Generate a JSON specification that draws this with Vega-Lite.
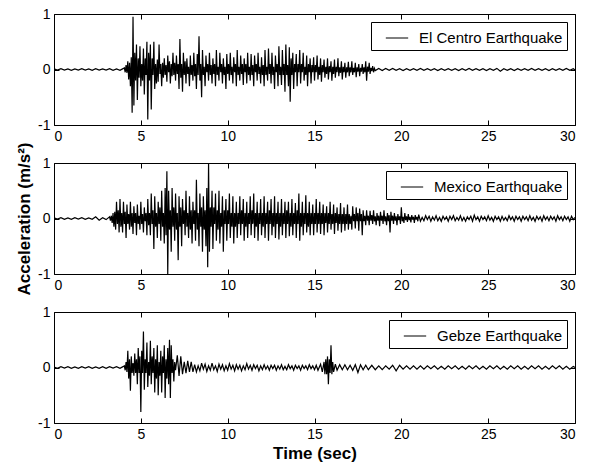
{
"$schema": "https://vega.github.io/schema/vega-lite/v6.json",
"padding": {"left": 15, "top": 6, "right": 8, "bottom": 2},
"datasets": {
"ec": [
{"t":0,"a":0.01},{"t":0.2,"a":-0.01},{"t":0.4,"a":0.015},{"t":0.6,"a":-0.01},{"t":0.8,"a":0.01},{"t":1.0,"a":-0.015},{"t":1.2,"a":0.01},{"t":1.4,"a":-0.01},{"t":1.6,"a":0.015},{"t":1.8,"a":-0.01},{"t":2.0,"a":0.01},{"t":2.2,"a":-0.015},{"t":2.4,"a":0.015},{"t":2.6,"a":-0.01},{"t":2.8,"a":0.01},{"t":3.0,"a":-0.01},{"t":3.2,"a":0.015},{"t":3.4,"a":-0.015},{"t":3.6,"a":0.01},{"t":3.8,"a":-0.015},{"t":4.0,"a":0.02},
{"t":4.05,"a":0.03},{"t":4.1,"a":-0.05},{"t":4.15,"a":0.08},{"t":4.2,"a":-0.06},{"t":4.25,"a":0.15},{"t":4.3,"a":-0.18},{"t":4.35,"a":0.12},{"t":4.4,"a":-0.3},{"t":4.45,"a":0.22},{"t":4.5,"a":-0.78},{"t":4.55,"a":0.95},{"t":4.6,"a":-0.65},{"t":4.65,"a":0.3},{"t":4.7,"a":-0.2},{"t":4.75,"a":0.45},{"t":4.8,"a":-0.55},{"t":4.85,"a":0.2},{"t":4.9,"a":-0.15},{"t":4.95,"a":0.42},
{"t":5.0,"a":-0.3},{"t":5.05,"a":0.1},{"t":5.1,"a":-0.2},{"t":5.15,"a":0.38},{"t":5.2,"a":-0.45},{"t":5.25,"a":0.2},{"t":5.3,"a":-0.1},{"t":5.35,"a":0.5},{"t":5.4,"a":-0.9},{"t":5.45,"a":0.3},{"t":5.5,"a":-0.2},{"t":5.55,"a":0.45},{"t":5.6,"a":-0.72},{"t":5.65,"a":0.2},{"t":5.7,"a":-0.1},{"t":5.75,"a":0.5},{"t":5.8,"a":-0.35},{"t":5.85,"a":0.1},{"t":5.9,"a":-0.25},{"t":5.95,"a":0.18},
{"t":6.0,"a":-0.22},{"t":6.05,"a":0.45},{"t":6.1,"a":-0.08},{"t":6.15,"a":0.1},{"t":6.2,"a":-0.3},{"t":6.25,"a":0.12},{"t":6.3,"a":-0.15},{"t":6.35,"a":0.2},{"t":6.4,"a":-0.1},{"t":6.45,"a":0.08},{"t":6.5,"a":-0.22},{"t":6.55,"a":0.25},{"t":6.6,"a":-0.05},{"t":6.65,"a":0.15},{"t":6.7,"a":-0.25},{"t":6.75,"a":0.1},{"t":6.8,"a":-0.12},{"t":6.85,"a":0.3},{"t":6.9,"a":-0.1},{"t":6.95,"a":0.12},
{"t":7.0,"a":-0.2},{"t":7.05,"a":0.25},{"t":7.1,"a":-0.08},{"t":7.15,"a":0.1},{"t":7.2,"a":-0.35},{"t":7.25,"a":0.55},{"t":7.3,"a":-0.15},{"t":7.35,"a":0.1},{"t":7.4,"a":-0.4},{"t":7.45,"a":0.3},{"t":7.5,"a":-0.1},{"t":7.55,"a":0.15},{"t":7.6,"a":-0.25},{"t":7.65,"a":0.2},{"t":7.7,"a":-0.08},{"t":7.75,"a":0.05},{"t":7.8,"a":-0.3},{"t":7.85,"a":0.25},{"t":7.9,"a":-0.1},{"t":7.95,"a":0.08},
{"t":8.0,"a":-0.2},{"t":8.05,"a":0.3},{"t":8.1,"a":-0.12},{"t":8.15,"a":0.1},{"t":8.2,"a":-0.35},{"t":8.25,"a":0.28},{"t":8.3,"a":-0.1},{"t":8.35,"a":0.6},{"t":8.4,"a":-0.2},{"t":8.45,"a":0.1},{"t":8.5,"a":-0.5},{"t":8.55,"a":0.35},{"t":8.6,"a":-0.1},{"t":8.65,"a":0.05},{"t":8.7,"a":-0.3},{"t":8.75,"a":0.25},{"t":8.8,"a":-0.05},{"t":8.85,"a":0.1},{"t":8.9,"a":-0.2},{"t":8.95,"a":0.3},
{"t":9.0,"a":-0.1},{"t":9.05,"a":0.08},{"t":9.1,"a":-0.25},{"t":9.15,"a":0.2},{"t":9.2,"a":-0.08},{"t":9.25,"a":0.1},{"t":9.3,"a":-0.3},{"t":9.35,"a":0.35},{"t":9.4,"a":-0.1},{"t":9.45,"a":0.05},{"t":9.5,"a":-0.2},{"t":9.55,"a":0.3},{"t":9.6,"a":-0.05},{"t":9.65,"a":0.1},{"t":9.7,"a":-0.25},{"t":9.75,"a":0.2},{"t":9.8,"a":-0.1},{"t":9.85,"a":0.05},{"t":9.9,"a":-0.35},{"t":9.95,"a":0.28},
{"t":10.0,"a":-0.08},{"t":10.05,"a":0.1},{"t":10.1,"a":-0.2},{"t":10.15,"a":0.3},{"t":10.2,"a":-0.1},{"t":10.25,"a":0.05},{"t":10.3,"a":-0.25},{"t":10.35,"a":0.22},{"t":10.4,"a":-0.05},{"t":10.45,"a":0.1},{"t":10.5,"a":-0.3},{"t":10.55,"a":0.35},{"t":10.6,"a":-0.1},{"t":10.65,"a":0.05},{"t":10.7,"a":-0.2},{"t":10.75,"a":0.25},{"t":10.8,"a":-0.08},{"t":10.85,"a":0.1},{"t":10.9,"a":-0.28},{"t":10.95,"a":0.2},
{"t":11.0,"a":-0.05},{"t":11.05,"a":0.1},{"t":11.1,"a":-0.25},{"t":11.15,"a":0.3},{"t":11.2,"a":-0.1},{"t":11.25,"a":0.05},{"t":11.3,"a":-0.2},{"t":11.35,"a":0.28},{"t":11.4,"a":-0.1},{"t":11.45,"a":0.08},{"t":11.5,"a":-0.3},{"t":11.55,"a":0.25},{"t":11.6,"a":-0.05},{"t":11.65,"a":0.1},{"t":11.7,"a":-0.2},{"t":11.75,"a":0.3},{"t":11.8,"a":-0.08},{"t":11.85,"a":0.05},{"t":11.9,"a":-0.25},{"t":11.95,"a":0.22},
{"t":12.0,"a":-0.1},{"t":12.05,"a":0.08},{"t":12.1,"a":-0.3},{"t":12.15,"a":0.35},{"t":12.2,"a":-0.1},{"t":12.25,"a":0.05},{"t":12.3,"a":-0.2},{"t":12.35,"a":0.38},{"t":12.4,"a":-0.08},{"t":12.45,"a":0.1},{"t":12.5,"a":-0.25},{"t":12.55,"a":0.3},{"t":12.6,"a":-0.1},{"t":12.65,"a":0.05},{"t":12.7,"a":-0.35},{"t":12.75,"a":0.25},{"t":12.8,"a":-0.05},{"t":12.85,"a":0.1},{"t":12.9,"a":-0.3},{"t":12.95,"a":0.42},
{"t":13.0,"a":-0.1},{"t":13.05,"a":0.05},{"t":13.1,"a":-0.28},{"t":13.15,"a":0.35},{"t":13.2,"a":-0.1},{"t":13.25,"a":0.1},{"t":13.3,"a":-0.4},{"t":13.35,"a":0.45},{"t":13.4,"a":-0.1},{"t":13.45,"a":0.08},{"t":13.5,"a":-0.3},{"t":13.55,"a":0.4},{"t":13.6,"a":-0.58},{"t":13.65,"a":0.2},{"t":13.7,"a":-0.1},{"t":13.75,"a":0.3},{"t":13.8,"a":-0.35},{"t":13.85,"a":0.1},{"t":13.9,"a":-0.05},{"t":13.95,"a":0.28},
{"t":14.0,"a":-0.3},{"t":14.05,"a":0.1},{"t":14.1,"a":-0.05},{"t":14.15,"a":0.35},{"t":14.2,"a":-0.25},{"t":14.25,"a":0.1},{"t":14.3,"a":-0.05},{"t":14.35,"a":0.3},{"t":14.4,"a":-0.2},{"t":14.45,"a":0.05},{"t":14.5,"a":-0.1},{"t":14.55,"a":0.25},{"t":14.6,"a":-0.3},{"t":14.65,"a":0.1},{"t":14.7,"a":-0.05},{"t":14.75,"a":0.2},{"t":14.8,"a":-0.25},{"t":14.85,"a":0.08},{"t":14.9,"a":-0.05},{"t":14.95,"a":0.22},
{"t":15.0,"a":-0.2},{"t":15.05,"a":0.08},{"t":15.1,"a":-0.05},{"t":15.15,"a":0.25},{"t":15.2,"a":-0.18},{"t":15.25,"a":0.05},{"t":15.3,"a":-0.1},{"t":15.35,"a":0.2},{"t":15.4,"a":-0.22},{"t":15.45,"a":0.08},{"t":15.5,"a":-0.05},{"t":15.55,"a":0.18},{"t":15.6,"a":-0.15},{"t":15.65,"a":0.05},{"t":15.7,"a":-0.08},{"t":15.75,"a":0.2},{"t":15.8,"a":-0.18},{"t":15.85,"a":0.06},{"t":15.9,"a":-0.05},{"t":15.95,"a":0.15},
{"t":16.0,"a":-0.2},{"t":16.05,"a":0.05},{"t":16.1,"a":-0.08},{"t":16.15,"a":0.18},{"t":16.2,"a":-0.15},{"t":16.25,"a":0.05},{"t":16.3,"a":-0.05},{"t":16.35,"a":0.2},{"t":16.4,"a":-0.12},{"t":16.45,"a":0.04},{"t":16.5,"a":-0.06},{"t":16.55,"a":0.15},{"t":16.6,"a":-0.18},{"t":16.65,"a":0.05},{"t":16.7,"a":-0.05},{"t":16.75,"a":0.12},{"t":16.8,"a":-0.15},{"t":16.85,"a":0.04},{"t":16.9,"a":-0.05},{"t":16.95,"a":0.14},
{"t":17.0,"a":-0.12},{"t":17.05,"a":0.04},{"t":17.1,"a":-0.05},{"t":17.15,"a":0.15},{"t":17.2,"a":-0.1},{"t":17.25,"a":0.03},{"t":17.3,"a":-0.05},{"t":17.35,"a":0.12},{"t":17.4,"a":-0.14},{"t":17.45,"a":0.04},{"t":17.5,"a":-0.04},{"t":17.55,"a":0.1},{"t":17.6,"a":-0.12},{"t":17.65,"a":0.03},{"t":17.7,"a":-0.04},{"t":17.75,"a":0.1},{"t":17.8,"a":-0.08},{"t":17.85,"a":0.04},{"t":17.9,"a":-0.05},{"t":17.95,"a":0.15},
{"t":18.0,"a":-0.2},{"t":18.05,"a":0.05},{"t":18.1,"a":-0.04},{"t":18.15,"a":0.12},{"t":18.2,"a":-0.08},{"t":18.25,"a":0.03},{"t":18.3,"a":-0.03},{"t":18.35,"a":0.06},{"t":18.4,"a":-0.05},{"t":18.45,"a":0.02},{"t":18.5,"a":-0.02},
{"t":18.7,"a":0.02},{"t":18.9,"a":-0.02},{"t":19.1,"a":0.02},{"t":19.3,"a":-0.015},{"t":19.5,"a":0.02},{"t":19.7,"a":-0.015},{"t":19.9,"a":0.015},{"t":20.1,"a":-0.02},{"t":20.3,"a":0.015},{"t":20.5,"a":-0.015},{"t":20.7,"a":0.015},{"t":20.9,"a":-0.015},
{"t":21.1,"a":0.02},{"t":21.3,"a":-0.015},{"t":21.5,"a":0.015},{"t":21.7,"a":-0.015},{"t":21.9,"a":0.015},{"t":22.1,"a":-0.02},{"t":22.3,"a":0.015},{"t":22.5,"a":-0.015},{"t":22.7,"a":0.015},{"t":22.9,"a":-0.015},
{"t":23.1,"a":0.015},{"t":23.3,"a":-0.02},{"t":23.5,"a":0.015},{"t":23.7,"a":-0.015},{"t":23.9,"a":0.02},{"t":24.1,"a":-0.015},{"t":24.3,"a":0.015},{"t":24.5,"a":-0.015},{"t":24.7,"a":0.015},{"t":24.9,"a":-0.02},
{"t":25.1,"a":0.015},{"t":25.3,"a":-0.015},{"t":25.5,"a":0.02},{"t":25.7,"a":-0.03},{"t":25.9,"a":0.015},{"t":26.1,"a":-0.015},{"t":26.3,"a":0.015},{"t":26.5,"a":-0.02},{"t":26.7,"a":0.015},{"t":26.9,"a":-0.015},
{"t":27.1,"a":0.015},{"t":27.3,"a":-0.015},{"t":27.5,"a":0.02},{"t":27.7,"a":-0.015},{"t":27.9,"a":0.015},{"t":28.1,"a":-0.015},{"t":28.3,"a":0.015},{"t":28.5,"a":-0.02},{"t":28.7,"a":0.015},{"t":28.9,"a":-0.015},
{"t":29.1,"a":0.015},{"t":29.3,"a":-0.015},{"t":29.5,"a":0.02},{"t":29.7,"a":-0.015},{"t":29.9,"a":0.015},{"t":30,"a":-0.01}
],
"mx": [
{"t":0,"a":0.01},{"t":0.2,"a":-0.01},{"t":0.4,"a":0.015},{"t":0.6,"a":-0.015},{"t":0.8,"a":0.01},{"t":1.0,"a":-0.015},{"t":1.2,"a":0.015},{"t":1.4,"a":-0.01},{"t":1.6,"a":0.015},{"t":1.8,"a":-0.015},{"t":2.0,"a":0.01},{"t":2.2,"a":-0.015},{"t":2.4,"a":0.03},{"t":2.6,"a":-0.03},{"t":2.8,"a":0.015},{"t":3.0,"a":-0.02},{"t":3.2,"a":0.03},
{"t":3.25,"a":-0.04},{"t":3.3,"a":0.05},{"t":3.35,"a":-0.08},{"t":3.4,"a":0.1},{"t":3.45,"a":-0.15},{"t":3.5,"a":0.12},{"t":3.55,"a":-0.2},{"t":3.6,"a":0.3},{"t":3.65,"a":-0.1},{"t":3.7,"a":0.15},{"t":3.75,"a":-0.25},{"t":3.8,"a":0.35},{"t":3.85,"a":-0.15},{"t":3.9,"a":0.1},{"t":3.95,"a":-0.25},
{"t":4.0,"a":0.3},{"t":4.05,"a":-0.1},{"t":4.1,"a":0.12},{"t":4.15,"a":-0.35},{"t":4.2,"a":0.25},{"t":4.25,"a":-0.1},{"t":4.3,"a":0.08},{"t":4.35,"a":-0.2},{"t":4.4,"a":0.3},{"t":4.45,"a":-0.15},{"t":4.5,"a":0.1},{"t":4.55,"a":-0.28},{"t":4.6,"a":0.22},{"t":4.65,"a":-0.08},{"t":4.7,"a":0.1},{"t":4.75,"a":-0.3},{"t":4.8,"a":0.25},{"t":4.85,"a":-0.1},{"t":4.9,"a":0.05},{"t":4.95,"a":-0.2},
{"t":5.0,"a":0.3},{"t":5.05,"a":-0.1},{"t":5.1,"a":0.08},{"t":5.15,"a":-0.25},{"t":5.2,"a":0.2},{"t":5.25,"a":-0.05},{"t":5.3,"a":0.1},{"t":5.35,"a":-0.3},{"t":5.4,"a":0.35},{"t":5.45,"a":-0.12},{"t":5.5,"a":0.1},{"t":5.55,"a":-0.3},{"t":5.6,"a":0.45},{"t":5.65,"a":-0.1},{"t":5.7,"a":0.15},{"t":5.75,"a":-0.55},{"t":5.8,"a":0.4},{"t":5.85,"a":-0.15},{"t":5.9,"a":0.1},{"t":5.95,"a":-0.35},
{"t":6.0,"a":0.3},{"t":6.05,"a":-0.1},{"t":6.1,"a":0.2},{"t":6.15,"a":-0.4},{"t":6.2,"a":0.5},{"t":6.25,"a":-0.15},{"t":6.3,"a":0.1},{"t":6.35,"a":-0.45},{"t":6.4,"a":0.55},{"t":6.45,"a":-0.3},{"t":6.5,"a":0.85},{"t":6.55,"a":-1.0},{"t":6.6,"a":0.5},{"t":6.65,"a":-0.2},{"t":6.7,"a":0.15},{"t":6.75,"a":-0.6},{"t":6.8,"a":0.55},{"t":6.85,"a":-0.15},{"t":6.9,"a":0.2},{"t":6.95,"a":-0.4},
{"t":7.0,"a":0.45},{"t":7.05,"a":-0.2},{"t":7.1,"a":0.1},{"t":7.15,"a":-0.75},{"t":7.2,"a":0.4},{"t":7.25,"a":-0.15},{"t":7.3,"a":0.2},{"t":7.35,"a":-0.5},{"t":7.4,"a":0.35},{"t":7.45,"a":-0.1},{"t":7.5,"a":0.15},{"t":7.55,"a":-0.3},{"t":7.6,"a":0.5},{"t":7.65,"a":-0.15},{"t":7.7,"a":0.1},{"t":7.75,"a":-0.35},{"t":7.8,"a":0.4},{"t":7.85,"a":-0.2},{"t":7.9,"a":0.15},{"t":7.95,"a":-0.45},
{"t":8.0,"a":0.3},{"t":8.05,"a":-0.1},{"t":8.1,"a":0.15},{"t":8.15,"a":-0.4},{"t":8.2,"a":0.7},{"t":8.25,"a":-0.2},{"t":8.3,"a":0.1},{"t":8.35,"a":-0.5},{"t":8.4,"a":0.45},{"t":8.45,"a":-0.15},{"t":8.5,"a":0.2},{"t":8.55,"a":-0.6},{"t":8.6,"a":0.4},{"t":8.65,"a":-0.2},{"t":8.7,"a":0.15},{"t":8.75,"a":-0.5},{"t":8.8,"a":0.55},{"t":8.85,"a":-0.88},{"t":8.9,"a":1.0},{"t":8.95,"a":-0.6},
{"t":9.0,"a":0.2},{"t":9.05,"a":-0.15},{"t":9.1,"a":0.5},{"t":9.15,"a":-0.55},{"t":9.2,"a":0.2},{"t":9.25,"a":-0.1},{"t":9.3,"a":0.45},{"t":9.35,"a":-0.4},{"t":9.4,"a":0.15},{"t":9.45,"a":-0.2},{"t":9.5,"a":0.5},{"t":9.55,"a":-0.45},{"t":9.6,"a":0.1},{"t":9.65,"a":-0.15},{"t":9.7,"a":0.4},{"t":9.75,"a":-0.6},{"t":9.8,"a":0.15},{"t":9.85,"a":-0.1},{"t":9.9,"a":0.35},{"t":9.95,"a":-0.4},
{"t":10.0,"a":0.15},{"t":10.05,"a":-0.1},{"t":10.1,"a":0.45},{"t":10.15,"a":-0.35},{"t":10.2,"a":0.1},{"t":10.25,"a":-0.15},{"t":10.3,"a":0.4},{"t":10.35,"a":-0.45},{"t":10.4,"a":0.1},{"t":10.45,"a":-0.15},{"t":10.5,"a":0.3},{"t":10.55,"a":-0.35},{"t":10.6,"a":0.1},{"t":10.65,"a":-0.1},{"t":10.7,"a":0.4},{"t":10.75,"a":-0.3},{"t":10.8,"a":0.15},{"t":10.85,"a":-0.1},{"t":10.9,"a":0.35},{"t":10.95,"a":-0.4},
{"t":11.0,"a":0.1},{"t":11.05,"a":-0.15},{"t":11.1,"a":0.3},{"t":11.15,"a":-0.35},{"t":11.2,"a":0.1},{"t":11.25,"a":-0.1},{"t":11.3,"a":0.4},{"t":11.35,"a":-0.3},{"t":11.4,"a":0.15},{"t":11.45,"a":-0.1},{"t":11.5,"a":0.45},{"t":11.55,"a":-0.35},{"t":11.6,"a":0.1},{"t":11.65,"a":-0.15},{"t":11.7,"a":0.3},{"t":11.75,"a":-0.4},{"t":11.8,"a":0.1},{"t":11.85,"a":-0.1},{"t":11.9,"a":0.35},{"t":11.95,"a":-0.3},
{"t":12.0,"a":0.1},{"t":12.05,"a":-0.15},{"t":12.1,"a":0.4},{"t":12.15,"a":-0.35},{"t":12.2,"a":0.1},{"t":12.25,"a":-0.1},{"t":12.3,"a":0.3},{"t":12.35,"a":-0.4},{"t":12.4,"a":0.15},{"t":12.45,"a":-0.1},{"t":12.5,"a":0.35},{"t":12.55,"a":-0.3},{"t":12.6,"a":0.1},{"t":12.65,"a":-0.15},{"t":12.7,"a":0.4},{"t":12.75,"a":-0.35},{"t":12.8,"a":0.1},{"t":12.85,"a":-0.1},{"t":12.9,"a":0.3},{"t":12.95,"a":-0.38},
{"t":13.0,"a":0.1},{"t":13.05,"a":-0.15},{"t":13.1,"a":0.35},{"t":13.15,"a":-0.3},{"t":13.2,"a":0.1},{"t":13.25,"a":-0.1},{"t":13.3,"a":0.3},{"t":13.35,"a":-0.35},{"t":13.4,"a":0.15},{"t":13.45,"a":-0.1},{"t":13.5,"a":0.3},{"t":13.55,"a":-0.32},{"t":13.6,"a":0.1},{"t":13.65,"a":-0.15},{"t":13.7,"a":0.35},{"t":13.75,"a":-0.3},{"t":13.8,"a":0.1},{"t":13.85,"a":-0.1},{"t":13.9,"a":0.28},{"t":13.95,"a":-0.35},
{"t":14.0,"a":0.15},{"t":14.05,"a":-0.1},{"t":14.1,"a":0.45},{"t":14.15,"a":-0.4},{"t":14.2,"a":0.1},{"t":14.25,"a":-0.15},{"t":14.3,"a":0.3},{"t":14.35,"a":-0.3},{"t":14.4,"a":0.1},{"t":14.45,"a":-0.1},{"t":14.5,"a":0.42},{"t":14.55,"a":-0.25},{"t":14.6,"a":0.1},{"t":14.65,"a":-0.15},{"t":14.7,"a":0.3},{"t":14.75,"a":-0.3},{"t":14.8,"a":0.1},{"t":14.85,"a":-0.1},{"t":14.9,"a":0.25},{"t":14.95,"a":-0.3},
{"t":15.0,"a":0.1},{"t":15.05,"a":-0.1},{"t":15.1,"a":0.35},{"t":15.15,"a":-0.25},{"t":15.2,"a":0.1},{"t":15.25,"a":-0.1},{"t":15.3,"a":0.3},{"t":15.35,"a":-0.28},{"t":15.4,"a":0.1},{"t":15.45,"a":-0.1},{"t":15.5,"a":0.25},{"t":15.55,"a":-0.3},{"t":15.6,"a":0.1},{"t":15.65,"a":-0.08},{"t":15.7,"a":0.22},{"t":15.75,"a":-0.25},{"t":15.8,"a":0.1},{"t":15.85,"a":-0.1},{"t":15.9,"a":0.3},{"t":15.95,"a":-0.2},
{"t":16.0,"a":0.08},{"t":16.05,"a":-0.1},{"t":16.1,"a":0.25},{"t":16.15,"a":-0.28},{"t":16.2,"a":0.1},{"t":16.25,"a":-0.08},{"t":16.3,"a":0.2},{"t":16.35,"a":-0.22},{"t":16.4,"a":0.08},{"t":16.45,"a":-0.1},{"t":16.5,"a":0.28},{"t":16.55,"a":-0.25},{"t":16.6,"a":0.08},{"t":16.65,"a":-0.1},{"t":16.7,"a":0.2},{"t":16.75,"a":-0.22},{"t":16.8,"a":0.08},{"t":16.85,"a":-0.1},{"t":16.9,"a":0.25},{"t":16.95,"a":-0.2},
{"t":17.0,"a":0.08},{"t":17.05,"a":-0.1},{"t":17.1,"a":0.05},{"t":17.15,"a":-0.2},{"t":17.2,"a":0.22},{"t":17.25,"a":-0.05},{"t":17.3,"a":0.08},{"t":17.35,"a":-0.18},{"t":17.4,"a":0.2},{"t":17.45,"a":-0.05},{"t":17.5,"a":0.1},{"t":17.55,"a":-0.22},{"t":17.6,"a":0.18},{"t":17.65,"a":-0.05},{"t":17.7,"a":0.08},{"t":17.75,"a":-0.3},{"t":17.8,"a":0.15},{"t":17.85,"a":-0.05},{"t":17.9,"a":0.05},{"t":17.95,"a":-0.12},
{"t":18.0,"a":0.15},{"t":18.05,"a":-0.04},{"t":18.1,"a":0.05},{"t":18.15,"a":-0.12},{"t":18.2,"a":0.14},{"t":18.25,"a":-0.04},{"t":18.3,"a":0.06},{"t":18.35,"a":-0.1},{"t":18.4,"a":0.15},{"t":18.45,"a":-0.05},{"t":18.5,"a":0.04},{"t":18.55,"a":-0.12},{"t":18.6,"a":0.1},{"t":18.65,"a":-0.04},{"t":18.7,"a":0.05},{"t":18.75,"a":-0.14},{"t":18.8,"a":0.12},{"t":18.85,"a":-0.04},{"t":18.9,"a":0.05},{"t":18.95,"a":-0.1},
{"t":19.0,"a":0.15},{"t":19.05,"a":-0.05},{"t":19.1,"a":0.04},{"t":19.15,"a":-0.12},{"t":19.2,"a":0.1},{"t":19.25,"a":-0.05},{"t":19.3,"a":0.06},{"t":19.35,"a":-0.25},{"t":19.4,"a":0.12},{"t":19.45,"a":-0.04},{"t":19.5,"a":0.05},{"t":19.55,"a":-0.1},{"t":19.6,"a":0.1},{"t":19.65,"a":-0.04},{"t":19.7,"a":0.04},{"t":19.75,"a":-0.12},{"t":19.8,"a":0.08},{"t":19.85,"a":-0.03},{"t":19.9,"a":0.04},{"t":19.95,"a":-0.1},
{"t":20.0,"a":0.2},{"t":20.05,"a":-0.05},{"t":20.1,"a":0.03},{"t":20.15,"a":-0.08},{"t":20.2,"a":0.1},{"t":20.25,"a":-0.03},{"t":20.3,"a":0.04},{"t":20.35,"a":-0.06},{"t":20.4,"a":0.08},{"t":20.45,"a":-0.03},{"t":20.5,"a":0.03},{"t":20.55,"a":-0.07},{"t":20.6,"a":0.06},{"t":20.65,"a":-0.02},{"t":20.7,"a":0.03},{"t":20.75,"a":-0.08},{"t":20.8,"a":0.06},{"t":20.85,"a":-0.02},{"t":20.9,"a":0.03},{"t":20.95,"a":-0.05},
{"t":21.0,"a":0.07},{"t":21.1,"a":-0.05},{"t":21.2,"a":0.02},{"t":21.3,"a":-0.04},{"t":21.4,"a":0.05},{"t":21.5,"a":-0.02},{"t":21.6,"a":0.04},{"t":21.7,"a":-0.05},{"t":21.8,"a":0.03},{"t":21.9,"a":-0.03},
{"t":22.0,"a":0.05},{"t":22.1,"a":-0.04},{"t":22.2,"a":0.02},{"t":22.3,"a":-0.05},{"t":22.4,"a":0.04},{"t":22.5,"a":-0.02},{"t":22.6,"a":0.03},{"t":22.7,"a":-0.05},{"t":22.8,"a":0.04},{"t":22.9,"a":-0.02},
{"t":23.0,"a":0.05},{"t":23.1,"a":-0.04},{"t":23.2,"a":0.02},{"t":23.3,"a":-0.03},{"t":23.4,"a":0.05},{"t":23.5,"a":-0.04},{"t":23.6,"a":0.02},{"t":23.7,"a":-0.05},{"t":23.8,"a":0.03},{"t":23.9,"a":-0.02},
{"t":24.0,"a":0.04},{"t":24.1,"a":-0.05},{"t":24.2,"a":0.06},{"t":24.3,"a":-0.02},{"t":24.4,"a":0.03},{"t":24.5,"a":-0.05},{"t":24.6,"a":0.04},{"t":24.7,"a":-0.02},{"t":24.8,"a":0.03},{"t":24.9,"a":-0.04},
{"t":25.0,"a":0.05},{"t":25.1,"a":-0.03},{"t":25.2,"a":0.02},{"t":25.3,"a":-0.05},{"t":25.4,"a":0.04},{"t":25.5,"a":-0.02},{"t":25.6,"a":0.03},{"t":25.7,"a":-0.05},{"t":25.8,"a":0.04},{"t":25.9,"a":-0.03},
{"t":26.0,"a":0.02},{"t":26.1,"a":-0.04},{"t":26.2,"a":0.05},{"t":26.3,"a":-0.02},{"t":26.4,"a":0.03},{"t":26.5,"a":-0.05},{"t":26.6,"a":0.04},{"t":26.7,"a":-0.02},{"t":26.8,"a":0.03},{"t":26.9,"a":-0.05},
{"t":27.0,"a":0.04},{"t":27.1,"a":-0.02},{"t":27.2,"a":0.03},{"t":27.3,"a":-0.04},{"t":27.4,"a":0.05},{"t":27.5,"a":-0.03},{"t":27.6,"a":0.02},{"t":27.7,"a":-0.05},{"t":27.8,"a":0.04},{"t":27.9,"a":-0.02},
{"t":28.0,"a":0.03},{"t":28.1,"a":-0.05},{"t":28.2,"a":0.05},{"t":28.3,"a":-0.02},{"t":28.4,"a":0.03},{"t":28.5,"a":-0.04},{"t":28.6,"a":0.04},{"t":28.7,"a":-0.02},{"t":28.8,"a":0.03},{"t":28.9,"a":-0.05},
{"t":29.0,"a":0.05},{"t":29.1,"a":-0.02},{"t":29.2,"a":0.03},{"t":29.3,"a":-0.04},{"t":29.4,"a":0.04},{"t":29.5,"a":-0.02},{"t":29.6,"a":0.03},{"t":29.7,"a":-0.05},{"t":29.8,"a":0.04},{"t":29.9,"a":-0.02},{"t":30.0,"a":0.02}
],
"gb": [
{"t":0,"a":0.01},{"t":0.2,"a":-0.015},{"t":0.4,"a":0.015},{"t":0.6,"a":-0.01},{"t":0.8,"a":0.015},{"t":1.0,"a":-0.015},{"t":1.2,"a":0.01},{"t":1.4,"a":-0.015},{"t":1.6,"a":0.015},{"t":1.8,"a":-0.01},{"t":2.0,"a":0.015},{"t":2.2,"a":-0.015},{"t":2.4,"a":0.01},{"t":2.6,"a":-0.015},{"t":2.8,"a":0.015},{"t":3.0,"a":-0.015},{"t":3.2,"a":0.015},{"t":3.4,"a":-0.01},{"t":3.6,"a":0.015},{"t":3.8,"a":-0.015},{"t":4.0,"a":0.02},
{"t":4.05,"a":0.03},{"t":4.1,"a":-0.05},{"t":4.15,"a":0.1},{"t":4.2,"a":-0.08},{"t":4.25,"a":0.3},{"t":4.3,"a":-0.2},{"t":4.35,"a":0.15},{"t":4.4,"a":-0.42},{"t":4.45,"a":0.2},{"t":4.5,"a":-0.1},{"t":4.55,"a":0.08},{"t":4.6,"a":-0.15},{"t":4.65,"a":0.25},{"t":4.7,"a":-0.1},{"t":4.75,"a":0.15},{"t":4.8,"a":-0.3},{"t":4.85,"a":0.35},{"t":4.9,"a":-0.1},{"t":4.95,"a":0.2},
{"t":5.0,"a":-0.8},{"t":5.05,"a":0.3},{"t":5.1,"a":-0.1},{"t":5.15,"a":0.65},{"t":5.2,"a":-0.4},{"t":5.25,"a":0.15},{"t":5.3,"a":-0.1},{"t":5.35,"a":0.45},{"t":5.4,"a":-0.35},{"t":5.45,"a":0.1},{"t":5.5,"a":-0.15},{"t":5.55,"a":0.48},{"t":5.6,"a":-0.3},{"t":5.65,"a":0.2},{"t":5.7,"a":-0.1},{"t":5.75,"a":0.35},{"t":5.8,"a":-0.45},{"t":5.85,"a":0.15},{"t":5.9,"a":-0.2},{"t":5.95,"a":0.4},
{"t":6.0,"a":-0.5},{"t":6.05,"a":0.1},{"t":6.1,"a":-0.15},{"t":6.15,"a":0.3},{"t":6.2,"a":-0.45},{"t":6.25,"a":0.2},{"t":6.3,"a":-0.1},{"t":6.35,"a":0.4},{"t":6.4,"a":-0.55},{"t":6.45,"a":0.15},{"t":6.5,"a":-0.2},{"t":6.55,"a":0.35},{"t":6.6,"a":-0.3},{"t":6.65,"a":0.5},{"t":6.7,"a":-0.55},{"t":6.75,"a":0.4},{"t":6.8,"a":-0.1},{"t":6.85,"a":0.15},{"t":6.9,"a":-0.25},{"t":6.95,"a":0.1},
{"t":7.0,"a":-0.05},{"t":7.1,"a":0.22},{"t":7.2,"a":-0.15},{"t":7.3,"a":0.2},{"t":7.4,"a":-0.12},{"t":7.5,"a":0.1},{"t":7.6,"a":-0.1},{"t":7.7,"a":0.12},{"t":7.8,"a":-0.08},{"t":7.9,"a":0.1},
{"t":8.0,"a":-0.08},{"t":8.1,"a":0.05},{"t":8.2,"a":-0.08},{"t":8.3,"a":0.03},{"t":8.4,"a":-0.06},{"t":8.5,"a":0.08},{"t":8.6,"a":-0.03},{"t":8.7,"a":0.06},{"t":8.8,"a":-0.07},{"t":8.9,"a":0.03},
{"t":9.0,"a":-0.05},{"t":9.1,"a":0.08},{"t":9.2,"a":-0.04},{"t":9.3,"a":0.03},{"t":9.4,"a":-0.07},{"t":9.5,"a":0.06},{"t":9.6,"a":-0.03},{"t":9.7,"a":0.05},{"t":9.8,"a":-0.06},{"t":9.9,"a":0.03},
{"t":10.0,"a":-0.05},{"t":10.1,"a":0.07},{"t":10.2,"a":-0.03},{"t":10.3,"a":0.04},{"t":10.4,"a":-0.06},{"t":10.5,"a":0.05},{"t":10.6,"a":-0.03},{"t":10.7,"a":0.04},{"t":10.8,"a":-0.06},{"t":10.9,"a":0.03},
{"t":11.0,"a":-0.04},{"t":11.1,"a":0.07},{"t":11.2,"a":-0.03},{"t":11.3,"a":0.04},{"t":11.4,"a":-0.05},{"t":11.5,"a":0.05},{"t":11.6,"a":-0.02},{"t":11.7,"a":0.04},{"t":11.8,"a":-0.06},{"t":11.9,"a":0.03},
{"t":12.0,"a":-0.04},{"t":12.1,"a":0.05},{"t":12.2,"a":-0.03},{"t":12.3,"a":0.03},{"t":12.4,"a":-0.05},{"t":12.5,"a":0.04},{"t":12.6,"a":-0.02},{"t":12.7,"a":0.04},{"t":12.8,"a":-0.05},{"t":12.9,"a":0.03},
{"t":13.0,"a":-0.03},{"t":13.1,"a":0.05},{"t":13.2,"a":-0.04},{"t":13.3,"a":0.02},{"t":13.4,"a":-0.04},{"t":13.5,"a":0.05},{"t":13.6,"a":-0.02},{"t":13.7,"a":0.03},{"t":13.8,"a":-0.05},{"t":13.9,"a":0.04},
{"t":14.0,"a":-0.02},{"t":14.1,"a":0.03},{"t":14.2,"a":-0.05},{"t":14.3,"a":0.04},{"t":14.4,"a":-0.02},{"t":14.5,"a":0.03},{"t":14.6,"a":-0.04},{"t":14.7,"a":0.05},{"t":14.8,"a":-0.02},{"t":14.9,"a":0.03},
{"t":15.0,"a":-0.04},{"t":15.1,"a":0.04},{"t":15.2,"a":-0.05},
{"t":15.35,"a":0.06},{"t":15.45,"a":-0.08},{"t":15.55,"a":0.1},{"t":15.6,"a":-0.12},{"t":15.65,"a":0.15},{"t":15.7,"a":-0.12},{"t":15.75,"a":0.2},{"t":15.8,"a":-0.3},{"t":15.85,"a":0.15},{"t":15.9,"a":-0.1},{"t":15.95,"a":0.4},{"t":16.0,"a":-0.12},{"t":16.05,"a":0.1},{"t":16.1,"a":-0.08},{"t":16.2,"a":0.06},{"t":16.3,"a":-0.05},
{"t":16.45,"a":0.05},{"t":16.6,"a":-0.04},{"t":16.75,"a":0.05},{"t":16.9,"a":-0.04},{"t":17.05,"a":0.04},{"t":17.2,"a":-0.05},{"t":17.35,"a":0.05},{"t":17.5,"a":-0.09},{"t":17.65,"a":0.05},{"t":17.8,"a":-0.04},{"t":17.95,"a":0.04},
{"t":18.1,"a":-0.04},{"t":18.3,"a":0.04},{"t":18.5,"a":-0.04},{"t":18.7,"a":0.03},{"t":18.9,"a":-0.04},{"t":19.1,"a":0.03},{"t":19.3,"a":-0.03},{"t":19.5,"a":0.04},{"t":19.7,"a":-0.06},{"t":19.9,"a":0.04},
{"t":20.1,"a":-0.03},{"t":20.3,"a":0.03},{"t":20.5,"a":-0.03},{"t":20.7,"a":0.03},{"t":20.9,"a":-0.03},{"t":21.1,"a":0.03},{"t":21.3,"a":-0.03},{"t":21.5,"a":0.03},{"t":21.7,"a":-0.02},{"t":21.9,"a":0.03},
{"t":22.1,"a":-0.03},{"t":22.3,"a":0.02},{"t":22.5,"a":-0.03},{"t":22.7,"a":0.03},{"t":22.9,"a":-0.02},{"t":23.1,"a":0.03},{"t":23.3,"a":-0.03},{"t":23.5,"a":0.02},{"t":23.7,"a":-0.03},{"t":23.9,"a":0.03},
{"t":24.1,"a":-0.02},{"t":24.3,"a":0.03},{"t":24.5,"a":-0.03},{"t":24.7,"a":0.02},{"t":24.9,"a":-0.03},{"t":25.1,"a":0.03},{"t":25.3,"a":-0.02},{"t":25.5,"a":0.03},{"t":25.7,"a":-0.03},{"t":25.9,"a":0.02},
{"t":26.1,"a":-0.03},{"t":26.3,"a":0.03},{"t":26.5,"a":-0.02},{"t":26.7,"a":0.03},{"t":26.9,"a":-0.03},{"t":27.1,"a":0.02},{"t":27.3,"a":-0.03},{"t":27.5,"a":0.03},{"t":27.7,"a":-0.02},{"t":27.9,"a":0.03},
{"t":28.1,"a":-0.03},{"t":28.3,"a":0.02},{"t":28.5,"a":-0.03},{"t":28.7,"a":0.03},{"t":28.9,"a":-0.02},{"t":29.1,"a":0.03},{"t":29.3,"a":-0.03},{"t":29.5,"a":0.02},{"t":29.7,"a":-0.03},{"t":29.9,"a":0.02},{"t":30,"a":0}
]
},
"config": {
"font": "Liberation Sans",
"view": {"stroke": "black", "strokeWidth": 1},
"axis": {"grid": false, "domain": false, "tickColor": "black", "tickSize": -5, "labelColor": "black", "labelFontSize": 14, "labelPadding": 9, "titleColor": "black", "titleFontWeight": "bold", "titleFontSize": 17},
"legend": {"orient": "top-right", "offset": 8, "strokeColor": "black", "fillColor": "white", "padding": 4, "symbolType": "stroke", "symbolSize": 500, "symbolStrokeWidth": 1, "symbolOffset": 10, "labelFontSize": 15, "labelColor": "black", "labelOffset": 10, "cornerRadius": 0, "title": null}
},
"bounds": "flush",
"spacing": 38,
"resolve": {"scale": {"color": "independent"}, "legend": {"color": "independent"}},
"vconcat": [
{
"width": 521, "height": 111,
"data": {"name": "ec"},
"layer": [
{"mark": {"type": "line", "strokeWidth": 1.2, "clip": true},
 "encoding": {
  "x": {"field": "t", "type": "quantitative", "scale": {"domain": [0, 30], "nice": false}, "axis": {"values": [0,5,10,15,20,25,30], "title": null}},
  "y": {"field": "a", "type": "quantitative", "scale": {"domain": [-1, 1], "nice": false}, "axis": {"values": [-1,0,1], "title": null, "labelExpr": "datum.value < 0 ? '-' + abs(datum.value) : '' + datum.value"}},
  "color": {"datum": "El Centro Earthquake", "type": "nominal", "scale": {"range": ["black"]}, "legend": {"title": null}}
 }},
{"mark": {"type": "point", "opacity": 0},
 "encoding": {
  "x": {"field": "t", "type": "quantitative", "axis": {"orient": "top", "values": [0,5,10,15,20,25,30], "labels": false, "title": null, "minExtent": 0, "maxExtent": 0}},
  "y": {"field": "a", "type": "quantitative", "axis": {"orient": "right", "values": [-1,0,1], "labels": false, "title": null, "minExtent": 0, "maxExtent": 0}}
 }}
],
"resolve": {"axis": {"x": "independent", "y": "independent"}}
},
{
"width": 521, "height": 111,
"data": {"name": "mx"},
"layer": [
{"mark": {"type": "line", "strokeWidth": 1.2, "clip": true},
 "encoding": {
  "x": {"field": "t", "type": "quantitative", "scale": {"domain": [0, 30], "nice": false}, "axis": {"values": [0,5,10,15,20,25,30], "title": null}},
  "y": {"field": "a", "type": "quantitative", "scale": {"domain": [-1, 1], "nice": false}, "axis": {"values": [-1,0,1], "title": "Acceleration (m/s²)", "labelExpr": "datum.value < 0 ? '-' + abs(datum.value) : '' + datum.value"}},
  "color": {"datum": "Mexico Earthquake", "type": "nominal", "scale": {"range": ["black"]}, "legend": {"title": null}}
 }},
{"mark": {"type": "point", "opacity": 0},
 "encoding": {
  "x": {"field": "t", "type": "quantitative", "axis": {"orient": "top", "values": [0,5,10,15,20,25,30], "labels": false, "title": null, "minExtent": 0, "maxExtent": 0}},
  "y": {"field": "a", "type": "quantitative", "axis": {"orient": "right", "values": [-1,0,1], "labels": false, "title": null, "minExtent": 0, "maxExtent": 0}}
 }}
],
"resolve": {"axis": {"x": "independent", "y": "independent"}}
},
{
"width": 521, "height": 111,
"data": {"name": "gb"},
"layer": [
{"mark": {"type": "line", "strokeWidth": 1.2, "clip": true},
 "encoding": {
  "x": {"field": "t", "type": "quantitative", "scale": {"domain": [0, 30], "nice": false}, "axis": {"values": [0,5,10,15,20,25,30], "title": "Time (sec)", "titlePadding": 4}},
  "y": {"field": "a", "type": "quantitative", "scale": {"domain": [-1, 1], "nice": false}, "axis": {"values": [-1,0,1], "title": null, "labelExpr": "datum.value < 0 ? '-' + abs(datum.value) : '' + datum.value"}},
  "color": {"datum": "Gebze Earthquake", "type": "nominal", "scale": {"range": ["black"]}, "legend": {"title": null}}
 }},
{"mark": {"type": "point", "opacity": 0},
 "encoding": {
  "x": {"field": "t", "type": "quantitative", "axis": {"orient": "top", "values": [0,5,10,15,20,25,30], "labels": false, "title": null, "minExtent": 0, "maxExtent": 0}},
  "y": {"field": "a", "type": "quantitative", "axis": {"orient": "right", "values": [-1,0,1], "labels": false, "title": null, "minExtent": 0, "maxExtent": 0}}
 }}
],
"resolve": {"axis": {"x": "independent", "y": "independent"}}
}
]
}
